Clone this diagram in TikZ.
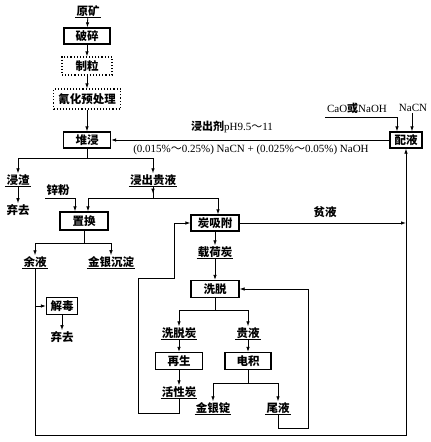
\documentclass[tikz,border=0pt]{standalone}
\usepackage{fontspec}
\setmainfont{Liberation Serif}
\newfontfamily\cjk{Noto Sans CJK SC}
\usetikzlibrary{arrows.meta}
\begin{document}
\begin{tikzpicture}[x=1pt,y=-1pt,
  box/.style={draw,line width=1.3pt,minimum height=16pt,inner sep=0pt,font=\cjk\bfseries\fontsize{11.5}{13}\selectfont},
  dbox/.style={draw,dotted,line width=1.1pt,inner sep=0pt,font=\cjk\bfseries\fontsize{11.5}{13}\selectfont},
  lab/.style={inner sep=1pt,font=\cjk\bfseries\fontsize{11.5}{13}\selectfont,
    append after command={(\tikzlastnode.south west) edge[line width=0.9pt,-] (\tikzlastnode.south east)}},
  txt/.style={inner sep=1pt,font=\cjk\bfseries\fontsize{11.5}{13}\selectfont},
  ltxt/.style={inner sep=1pt,font=\fontsize{11}{13}\selectfont},
  arr/.style={-{Latex[length=5pt,width=3.5pt]},line width=0.8pt},
  ln/.style={line width=0.8pt}]
\useasboundingbox (0,0) rectangle (431,442);

% main column
\node[lab] (ore) at (88,11) {原矿};
\node[box,minimum width=46pt] (crush) at (87,36) {破碎};
\node[dbox,minimum width=50pt,minimum height=18pt] (gran) at (87,66) {制粒};
\node[dbox,minimum width=67pt,minimum height=20pt] (pre) at (87,99) {氰化预处理};
\node[box,minimum width=47pt] (heap) at (87,140) {堆浸};
\node[box,minimum width=32pt] (mix) at (406,140) {配液};

\draw[arr] (ore) -- (crush);
\draw[arr] (crush) -- (gran);
\draw[arr] (gran) -- (pre);
\draw[arr] (pre) -- (heap);
\draw[arr] (mix) -- (heap);

\node[ltxt] (lix) at (232,127) {{\cjk\bfseries 浸出剂}pH9.5{\cjk ～}11};
\node[ltxt] (conc) at (251,150) {(0.015\%{\cjk ～}0.25\%) NaCN + (0.025\%{\cjk ～}0.05\%) NaOH};

% reagents to mix
\node[ltxt] (cao) at (357,108) {CaO{\cjk\bfseries 或}NaOH};
\node[ltxt] (nacn) at (413,108) {NaCN};
\coordinate (cao0) at (325,117);
\draw[arr] (cao0) -| ([xshift=-9pt]mix.north);
\draw[arr] ([xshift=6pt]mix.north |- nacn.south) -- ([xshift=6pt]mix.north);

% heap leach split
\coordinate (s1) at (87,158);
\draw[ln] (heap) -- (s1);
\node[lab] (zha) at (18,180) {浸渣};
\node[lab] (pls) at (153,180) {浸出贵液};
\draw[arr] (s1) -| (zha);
\draw[arr] (s1) -| (pls);
\node[txt] (dis1) at (18,210) {弃去};
\draw[arr] (zha) -- (dis1);

\coordinate (s2) at (153,198);
\draw[ln] (pls) -- (s2);
\draw[arr] (pls.south) -- ++(0,7);

\node[box,minimum width=48pt,minimum height=18pt] (rep) at (84,221) {置换};
\node[box,minimum width=48pt] (ads) at (215,223) {炭吸附};
\draw[arr] (s2) -| ([xshift=4pt]rep.north);
\draw[arr] (s2) -| ([xshift=3pt]ads.north);
\node[txt] (zn) at (58,190) {锌粉};
\coordinate (zn0) at (45,198);
\draw[arr] (zn0) -| ([xshift=-9pt]rep.north);

% cementation
\coordinate (s3) at (84,243);
\draw[ln] (rep) -- (s3);
\node[lab] (res) at (35,262) {余液};
\node[lab] (prec) at (111,262) {金银沉淀};
\draw[arr] (s3) -| (res);
\draw[arr] (s3) -| (prec);

\coordinate (bl) at (35,435);
\coordinate (br) at (406,435);
\draw[arr] (res) -- (bl) -- (br) -- (mix);

\node[box,minimum width=31pt,minimum height=17pt] (detox) at (62,306) {解毒};
\draw[arr] (detox.west -| res) -- (detox.west);
\node[txt] (dis2) at (62,337) {弃去};
\draw[arr] (detox) -- (dis2);

% carbon adsorption
\node[txt] (lean) at (325,212) {贫液};
\coordinate (le) at (406,223);
\draw[arr] (ads) -- (le);

\node[lab] (load) at (215,252) {载荷炭};
\draw[arr] (ads) -- (load);
\node[box,minimum width=48pt,minimum height=17pt] (elu) at (215,289) {洗脱};
\draw[arr] (load) -- (elu);

\coordinate (s4) at (215,310);
\draw[ln] (elu) -- (s4);
\node[lab] (ec) at (179,333) {洗脱炭};
\node[lab] (pr) at (248,333) {贵液};
\draw[arr] (s4) -| (ec);
\draw[arr] (s4) -| (pr);
\node[box,minimum width=47pt,minimum height=17pt] (regen) at (179,361) {再生};
\node[box,minimum width=46pt,minimum height=17pt] (ew) at (248,361) {电积};
\draw[arr] (ec) -- (regen);
\draw[arr] (pr) -- (ew);
\node[lab] (ac) at (179,392) {活性炭};
\draw[arr] (regen) -- (ac);

\coordinate (s5) at (248,383);
\draw[ln] (ew) -- (s5);
\node[lab] (dore) at (213,408) {金银锭};
\node[lab] (tail) at (278,408) {尾液};
\draw[arr] (s5) -| (dore);
\draw[arr] (s5) -| (tail);

% carbon recycle
\coordinate (c1) at (179,413);
\coordinate (c2) at (138,413);
\coordinate (c3) at (138,278);
\coordinate (c4) at (174,278);
\coordinate (c5) at (174,223);
\draw[arr] (ac) -- (c1) -- (c2) -- (c3) -- (c4) -- (c5) -- (ads);

% tail solution recycle
\coordinate (t1) at (278,428);
\coordinate (t2) at (308,428);
\coordinate (t3) at (308,289);
\draw[arr] (tail) -- (t1) -- (t2) -- (t3) -- (elu);
\end{tikzpicture}
\end{document}
